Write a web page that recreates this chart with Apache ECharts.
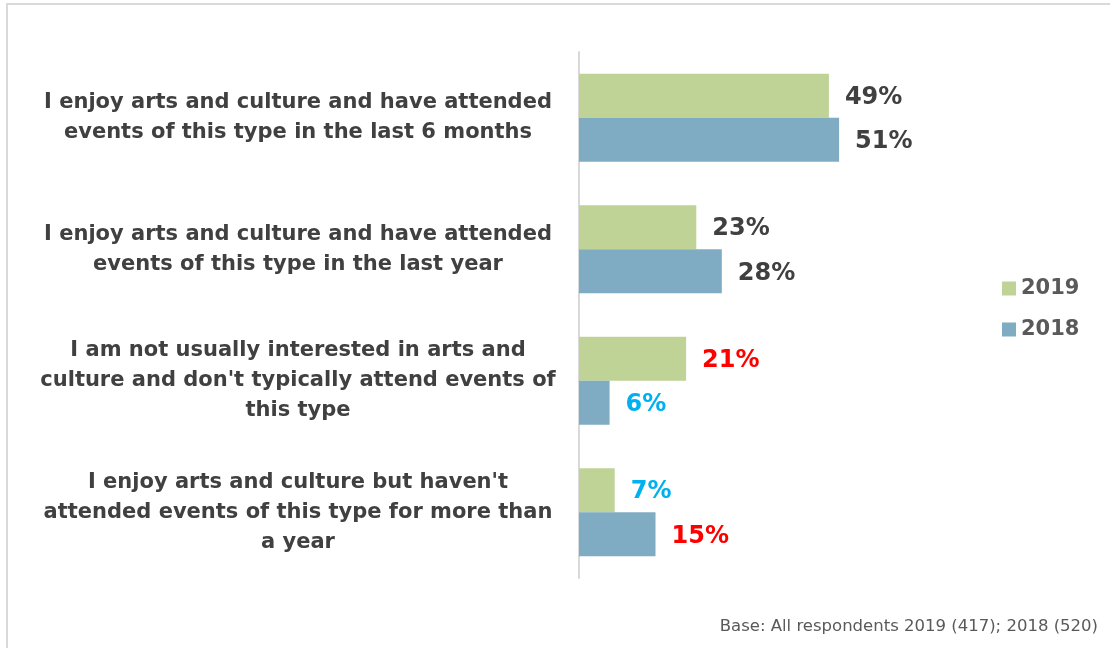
<!DOCTYPE html>
<html>
<head>
<meta charset="utf-8">
<script src="https://cdn.jsdelivr.net/npm/echarts@6/dist/echarts.min.js"></script>
<style>
  html, body { margin: 0; padding: 0; background: #ffffff; }
  #chart { width: 1110px; height: 648px; }
</style>
</head>
<body>
<div id="chart"></div>
<script>
// Attitudes to arts and culture, 2019 vs 2018 (% of respondents)
const categories = [
  "I enjoy arts and culture and have attended\nevents of this type in the last 6 months",
  "I enjoy arts and culture and have attended\nevents of this type in the last year",
  "I am not usually interested in arts and\nculture and don't typically attend events of\nthis type",
  "I enjoy arts and culture but haven't\nattended events of this type for more than\na year"
];
const seriesNames = ["2019", "2018"];
const values2019 = [49, 23, 21, 7];
const values2018 = [51, 28, 6, 15];
const footnote = "Base: All respondents 2019 (417); 2018 (520)";

// label colours highlight the notable changes
const labelColors2019 = ["#404040", "#404040", "#ff0000", "#00b0f0"];
const labelColors2018 = ["#404040", "#404040", "#00b0f0", "#ff0000"];

const FONT = "'DejaVu Sans', Verdana, sans-serif";

function withLabelColors(values, colors) {
  return values.map((v, i) => ({ value: v, label: { color: colors[i] } }));
}

const chart = echarts.init(document.getElementById('chart'), null, { renderer: 'canvas' });

const valueLabel = {
  show: true,
  position: 'right',
  distance: 16,
  offset: [0, 2],
  formatter: '{c}%',
  fontFamily: FONT,
  fontWeight: 'bold',
  fontSize: 24,
  color: '#404040'
};

chart.setOption({
  animation: false,
  backgroundColor: '#ffffff',
  grid: { left: 579, top: 52, width: 510, height: 526, containLabel: false },
  legend: {
    orient: 'vertical',
    left: 1002,
    top: 278,
    padding: 0,
    itemWidth: 14,
    itemHeight: 14,
    itemGap: 20,
    icon: 'rect',
    data: seriesNames,
    textStyle: { fontFamily: FONT, fontWeight: 'bold', fontSize: 21, color: '#595959', lineHeight: 20 }
  },
  xAxis: {
    type: 'value',
    min: 0,
    max: 100,
    show: false
  },
  yAxis: {
    type: 'category',
    inverse: true,
    data: categories,
    axisLine: { show: true, lineStyle: { color: '#d9d9d9', width: 2 } },
    axisTick: { show: false },
    axisLabel: {
      margin: 281,
      align: 'center',
      fontFamily: FONT,
      fontWeight: 'bold',
      fontSize: 21,
      lineHeight: 30,
      color: '#404040'
    }
  },
  series: [
    {
      name: seriesNames[0],
      type: 'bar',
      data: withLabelColors(values2019, labelColors2019),
      itemStyle: { color: '#bfd396' },
      barGap: '0%',
      barCategoryGap: '33%',
      label: valueLabel
    },
    {
      name: seriesNames[1],
      type: 'bar',
      data: withLabelColors(values2018, labelColors2018),
      itemStyle: { color: '#7facc3' },
      barGap: '0%',
      barCategoryGap: '33%',
      label: valueLabel
    }
  ],
  graphic: [
    {
      type: 'polyline',
      shape: { points: [[7, 648], [7, 4], [1110, 4]] },
      style: { stroke: '#d9d9d9', lineWidth: 2, fill: null },
      silent: true
    },
    {
      type: 'text',
      right: 12,
      top: 618,
      style: { text: footnote, fontFamily: FONT, fontSize: 16.5, fill: '#595959' }
    }
  ]
});
</script>
</body>
</html>
